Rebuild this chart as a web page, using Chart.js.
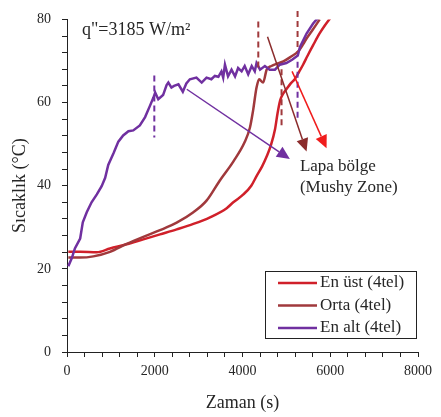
<!DOCTYPE html>
<html lang="tr">
<head>
<meta charset="UTF-8">
<title>Sıcaklık - Zaman</title>
<script src="https://cdn.jsdelivr.net/npm/chart.js"></script>
<style>
  html, body { margin: 0; padding: 0; background: #fff; }
</style>
</head>
<body>
<canvas id="myChart" width="441" height="417"></canvas>
<script>
// Series names and colours (legend order)
const seriesNames = ['En üst (4tel)', 'Orta (4tel)', 'En alt (4tel)'];
const seriesColors = ['#d0202a', '#a0393c', '#7030a0'];

// En üst (4tel) - time (s) / temperature (°C)
const enUstTime = [30, 300, 680, 980, 1360, 1740, 2120, 2500, 2880, 3260, 3640, 3790, 4020, 4200, 4320, 4450, 4550, 4650, 4740, 4800, 4860, 4920, 5000, 5100, 5190, 5290, 5380, 5480, 5610, 5750, 5880, 6000];
const enUstTemp = [24.1, 24.1, 24.0, 24.9, 25.9, 27.1, 28.3, 29.5, 30.8, 32.4, 34.6, 36.0, 37.9, 40.0, 42.3, 44.7, 47.0, 49.8, 53.5, 57.5, 60.6, 62.0, 63.2, 64.6, 65.6, 67.4, 69.1, 71.2, 73.8, 76.5, 78.6, 80.3];

// Orta (4tel)
const ortaTime = [30, 300, 600, 980, 1360, 1740, 2120, 2500, 2880, 3180, 3480, 3790, 4050, 4170, 4240, 4320, 4380, 4470, 4550, 4660, 4800, 4930, 5100, 5270, 5380, 5460, 5600, 5760];
const ortaTemp = [22.7, 22.7, 23.0, 24.1, 26.0, 27.7, 29.3, 31.1, 33.6, 36.4, 41.2, 45.8, 50.5, 54.0, 58.0, 63.6, 65.6, 64.8, 67.9, 68.8, 69.4, 69.9, 71.0, 72.3, 74.0, 75.4, 77.5, 80.0];

// En alt (4tel)
const enAltTime = [30, 110, 180, 300, 360, 450, 560, 680, 790, 870, 940, 1060, 1170, 1280, 1400, 1510, 1660, 1780, 1890, 1970, 2010, 2080, 2190, 2270, 2310, 2380, 2440, 2540, 2640, 2720, 2800, 2950, 3070, 3180, 3290, 3370, 3450, 3520, 3560, 3600, 3670, 3750, 3830, 3900, 3980, 4050, 4130, 4210, 4280, 4320, 4400, 4510, 4620, 4740, 4850, 5000, 5130, 5260, 5310, 5460, 5610, 5730];
const enAltTemp = [20.6, 22.6, 24.9, 27.3, 31.2, 33.6, 36.0, 37.9, 39.9, 41.9, 45.0, 47.8, 50.6, 52.1, 53.1, 53.3, 54.5, 56.5, 59.2, 61.2, 62.4, 60.8, 61.8, 64.2, 64.8, 63.6, 64.0, 64.4, 62.6, 64.6, 65.6, 66.0, 64.8, 66.0, 65.6, 66.4, 66.2, 67.5, 66.0, 69.1, 66.3, 67.9, 66.3, 68.3, 67.5, 68.8, 66.8, 68.8, 67.5, 69.5, 67.9, 68.8, 67.9, 67.9, 69.1, 69.5, 70.3, 71.3, 73.4, 76.6, 79.0, 80.5];

// Dashed vertical markers: time, temperature from / to, colour index
const markTime = [1990, 4360, 4890, 5255, 5255];
const markFrom = [66.5, 79.5, 68.0, 82.0, 69.8];
const markTo = [51.6, 67.5, 54.2, 72.2, 55.6];
const markSeries = [2, 1, 1, 1, 2];

// Arrows towards the mushy zone label
const arrowFromX = [2730, 4570, 5130];
const arrowFromY = [63.2, 75.8, 67.5];
const arrowToX = [5080, 5460, 5916];
const arrowToY = [46.4, 48.2, 49.0];
const arrowColors = ['#7030a0', '#8b2c2c', '#f01c1c'];

// Text annotations
const zoneLabel = ['Lapa bölge', '(Mushy Zone)'];
const zoneLabelX = [5308, 5308];
const zoneLabelY = [44.7, 39.5];
const fluxLabel = 'q"=3185 W/m²';
const fluxLabelX = 340;
const fluxLabelY = 77.4;

const serif = '"Liberation Serif", "DejaVu Serif", serif';
const textColor = '#262626';

function points(xs, ys) {
    return xs.map((t, i) => ({ x: t, y: ys[i] }));
}

const seriesData = [
    points(enUstTime, enUstTemp),
    points(ortaTime, ortaTemp),
    points(enAltTime, enAltTemp)
];

const datasets = seriesData.map((d, i) => ({
    label: seriesNames[i],
    data: d,
    borderColor: seriesColors[i],
    borderWidth: 2.5,
    pointRadius: 0,
    // the two upper thermocouples are smooth curves, the bottom one is noisy
    cubicInterpolationMode: i < 2 ? 'monotone' : 'default',
    tension: 0,
    fill: false,
    order: 3 - i
}));

markTime.forEach((t, i) => {
    datasets.push({
        label: 'mark' + i,
        data: [{ x: t, y: markFrom[i] }, { x: t, y: markTo[i] }],
        borderColor: seriesColors[markSeries[i]],
        borderWidth: 2,
        borderDash: [6, 4],
        pointRadius: 0,
        fill: false,
        clip: false,
        order: 0
    });
});

// Arrows, text and legend box
const overlay = {
    id: 'overlay',
    afterDatasetsDraw(chart) {
        const { ctx, scales: { x, y } } = chart;
        ctx.save();

        arrowFromX.forEach((v, i) => {
            const x1 = x.getPixelForValue(v), y1 = y.getPixelForValue(arrowFromY[i]);
            const x2 = x.getPixelForValue(arrowToX[i]), y2 = y.getPixelForValue(arrowToY[i]);
            const a = Math.atan2(y2 - y1, x2 - x1);
            const hl = 13, hw = 6;
            ctx.strokeStyle = arrowColors[i];
            ctx.fillStyle = arrowColors[i];
            ctx.lineWidth = 1.5;
            ctx.beginPath();
            ctx.moveTo(x1, y1);
            ctx.lineTo(x2 - hl * Math.cos(a), y2 - hl * Math.sin(a));
            ctx.stroke();
            ctx.beginPath();
            ctx.moveTo(x2, y2);
            ctx.lineTo(x2 - hl * Math.cos(a) + hw * Math.sin(a), y2 - hl * Math.sin(a) - hw * Math.cos(a));
            ctx.lineTo(x2 - hl * Math.cos(a) - hw * Math.sin(a), y2 - hl * Math.sin(a) + hw * Math.cos(a));
            ctx.closePath();
            ctx.fill();
        });

        ctx.fillStyle = textColor;
        ctx.textBaseline = 'middle';
        ctx.textAlign = 'left';
        ctx.font = '17px ' + serif;
        zoneLabel.forEach((s, i) => {
            ctx.fillText(s, x.getPixelForValue(zoneLabelX[i]), y.getPixelForValue(zoneLabelY[i]));
        });
        ctx.font = '18px ' + serif;
        ctx.fillText(fluxLabel, x.getPixelForValue(fluxLabelX), y.getPixelForValue(fluxLabelY));

        // legend
        const lx = 265.5, ly = 271.5, lw = 151, lh = 67;
        ctx.fillStyle = '#fff';
        ctx.fillRect(lx, ly, lw, lh);
        ctx.strokeStyle = '#222';
        ctx.lineWidth = 1;
        ctx.strokeRect(lx, ly, lw, lh);
        ctx.font = '17px ' + serif;
        seriesNames.forEach((name, i) => {
            const ry = 283 + i * 22.5;
            ctx.strokeStyle = seriesColors[i];
            ctx.lineWidth = 2.5;
            ctx.beginPath();
            ctx.moveTo(278, ry);
            ctx.lineTo(317, ry);
            ctx.stroke();
            ctx.fillStyle = textColor;
            ctx.fillText(name, 320, ry);
        });

        ctx.restore();
    }
};

const config = {
    type: 'line',
    data: { datasets: datasets },
    options: {
        responsive: false,
        animation: false,
        layout: { padding: { top: 14, right: 23, left: 0, bottom: 0 } },
        plugins: {
            legend: { display: false },
            tooltip: { enabled: false }
        },
        scales: {
            x: {
                type: 'linear',
                min: 0,
                max: 8000,
                afterFit: (s) => { s.height = 65; },
                border: { color: '#222', width: 1 },
                grid: { drawOnChartArea: false, drawTicks: true, tickLength: 5, tickColor: '#222' },
                ticks: {
                    stepSize: 400,
                    autoSkip: false,
                    maxRotation: 0,
                    padding: 6,
                    color: textColor,
                    font: { family: serif, size: 14 },
                    callback: (v) => (v % 2000 === 0 ? v : '')
                },
                title: {
                    display: true,
                    text: 'Zaman (s)',
                    color: textColor,
                    font: { family: serif, size: 18 },
                    padding: { top: 0, bottom: 3 }
                }
            },
            y: {
                type: 'linear',
                min: 0,
                max: 80,
                afterFit: (s) => { s.width = 67; },
                border: { color: '#222', width: 1 },
                grid: { drawOnChartArea: false, drawTicks: true, tickLength: 5, tickColor: '#222' },
                ticks: {
                    stepSize: 4,
                    autoSkip: false,
                    padding: 11,
                    color: textColor,
                    font: { family: serif, size: 14 },
                    callback: (v) => (v % 20 === 0 ? v : '')
                },
                title: {
                    display: true,
                    text: 'Sıcaklık (°C)',
                    color: textColor,
                    font: { family: serif, size: 18 },
                    padding: { top: 9, bottom: 0 }
                }
            }
        }
    },
    plugins: [overlay]
};

const ctx = document.getElementById('myChart').getContext('2d');
new Chart(ctx, config);
</script>
</body>
</html>
